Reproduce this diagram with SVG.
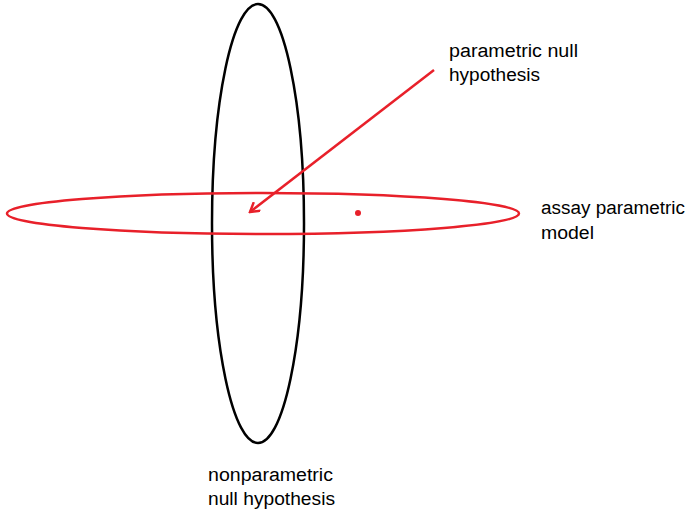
<svg xmlns="http://www.w3.org/2000/svg" width="686" height="514" viewBox="0 0 686 514">
<style>
text{font-family:"Liberation Sans",Arial,sans-serif;font-size:18px;fill:#000}
.red{stroke:#e8202a;fill:none;stroke-width:2.5}
.blk{stroke:#000;fill:none;stroke-width:2.5}
</style>
<defs>
<marker id="ah" markerWidth="12" markerHeight="12" refX="10" refY="6" orient="auto" markerUnits="userSpaceOnUse">
<path d="M1,0.5 L10,6 L1,11.5" fill="none" stroke="#e8202a" stroke-width="2.5"/>
</marker>
</defs>
<g id="nonparametric">
<ellipse class="blk" cx="258" cy="223.5" rx="46" ry="219.5"/>
<text x="208" y="481" textLength="125" lengthAdjust="spacingAndGlyphs">nonparametric</text>
<text x="208" y="505" textLength="127" lengthAdjust="spacingAndGlyphs">null hypothesis</text>
</g>
<g id="assay">
<ellipse class="red" cx="263" cy="213.5" rx="256" ry="20.5"/>
<circle cx="358" cy="213" r="3" fill="#e8202a"/>
<text x="541" y="214" textLength="144" lengthAdjust="spacingAndGlyphs">assay parametric</text>
<text x="541" y="239" textLength="53" lengthAdjust="spacingAndGlyphs">model</text>
</g>
<g id="parametric">
<text x="449" y="57" textLength="129" lengthAdjust="spacingAndGlyphs">parametric null</text>
<text x="449" y="81" textLength="91" lengthAdjust="spacingAndGlyphs">hypothesis</text>
</g>
<g id="connectors">
<line class="red" x1="434" y1="70" x2="250" y2="212" marker-end="url(#ah)"/>
</g>
</svg>
